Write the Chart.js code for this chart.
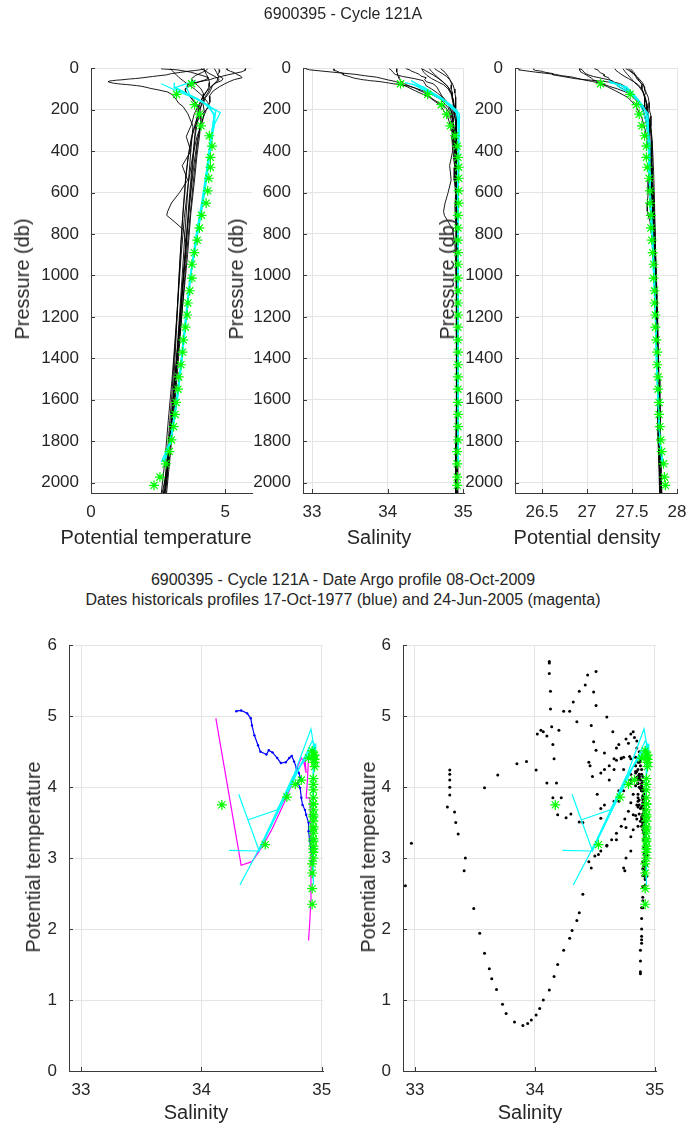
<!DOCTYPE html>
<html>
<head>
<meta charset="utf-8">
<script src="https://cdn.jsdelivr.net/npm/chart.js@4.4.0/dist/chart.umd.min.js"></script>
<style>
  body { margin: 0; width: 686px; height: 1128px; background: #fff; position: relative; overflow: hidden;
         font-family: "Liberation Sans", Arial, sans-serif; color: #262626; }
  canvas { position: absolute; }
  .lbl { position: absolute; white-space: nowrap; transform: translate(-50%, -50%); line-height: 1; }
  .rot { transform: translate(-50%, -50%) rotate(-90deg); }
</style>
</head>
<body>
<script>
// ---- Argo profile (green stars) ----
const argoPres = [75, 126, 176, 222, 278, 326, 376, 430, 478, 531, 592, 651, 710, 771, 830, 890, 946, 1013, 1074, 1133, 1191, 1250, 1311, 1370, 1431, 1490, 1549, 1613, 1671, 1730, 1794, 1850, 1909, 1973, 2013];
const argoTemp = [3.75, 3.19, 3.86, 4.04, 4.10, 4.41, 4.51, 4.45, 4.45, 4.39, 4.35, 4.29, 4.12, 4.04, 3.96, 3.85, 3.76, 3.76, 3.68, 3.61, 3.58, 3.52, 3.44, 3.41, 3.35, 3.27, 3.24, 3.17, 3.13, 3.08, 3.00, 2.92, 2.79, 2.57, 2.35];
const argoSal  = [34.17, 34.53, 34.71, 34.78, 34.83, 34.89, 34.92, 34.93, 34.94, 34.94, 34.94, 34.94, 34.93, 34.93, 34.93, 34.93, 34.93, 34.93, 34.93, 34.93, 34.93, 34.93, 34.93, 34.93, 34.93, 34.93, 34.93, 34.93, 34.93, 34.93, 34.93, 34.92, 34.92, 34.92, 34.92];
const argoDens = [27.15, 27.48, 27.55, 27.58, 27.61, 27.64, 27.66, 27.66, 27.67, 27.69, 27.70, 27.70, 27.71, 27.71, 27.72, 27.73, 27.74, 27.74, 27.75, 27.75, 27.76, 27.76, 27.77, 27.78, 27.78, 27.79, 27.79, 27.80, 27.80, 27.81, 27.82, 27.83, 27.85, 27.86, 27.87];

// ---- historical profiles (black) ----
const hist1Pres = [3, 5, 7, 9, 11, 14, 17, 20, 26, 32, 40, 46, 50, 52, 54, 56, 58, 60, 62, 65, 67, 69, 71, 73, 75, 77, 79, 81, 84, 87, 90, 94, 98, 104, 115, 130, 150, 168, 185, 220, 280, 400, 600, 800, 1000, 1300, 1600, 1900, 2200, 2600, 3000];
const hist1Temp = [4.24, 4.18, 4.10, 4.00, 3.89, 3.65, 3.50, 3.34, 3.00, 2.82, 2.29, 1.94, 1.66, 1.44, 1.30, 1.15, 0.94, 0.81, 0.69, 0.64, 0.67, 0.72, 0.79, 0.88, 1.00, 1.14, 1.33, 1.50, 1.70, 1.87, 1.98, 2.12, 2.23, 2.49, 2.86, 3.05, 3.17, 3.26, 3.43, 3.61, 3.80, 3.72, 3.60, 3.50, 3.40, 3.24, 3.08, 2.90, 2.40, 1.90, 1.37];
const hist1Sal  = [33.29, 33.29, 33.29, 33.29, 33.29, 33.33, 33.34, 33.36, 33.42, 33.41, 33.49, 33.54, 33.58, 33.62, 33.64, 33.68, 33.73, 33.76, 33.83, 33.90, 33.94, 33.97, 34.01, 34.04, 34.07, 34.12, 34.16, 34.19, 34.24, 34.29, 34.31, 34.35, 34.37, 34.40, 34.47, 34.53, 34.60, 34.68, 34.76, 34.82, 34.86, 34.89, 34.90, 34.91, 34.91, 34.92, 34.92, 34.91, 34.90, 34.89, 34.88];
const hist1Dens = [26.40, 26.41, 26.41, 26.42, 26.43, 26.49, 26.51, 26.54, 26.62, 26.62, 26.73, 26.81, 26.86, 26.91, 26.94, 26.99, 27.05, 27.08, 27.15, 27.21, 27.24, 27.26, 27.28, 27.30, 27.31, 27.34, 27.35, 27.36, 27.38, 27.40, 27.41, 27.43, 27.44, 27.44, 27.46, 27.49, 27.53, 27.59, 27.64, 27.67, 27.68, 27.71, 27.73, 27.75, 27.76, 27.78, 27.79, 27.80, 27.84, 27.88, 27.92];

const hist2Pres = [3, 8, 19, 30, 36, 43, 50, 57, 64, 70, 78, 90, 110, 140, 180, 240, 320, 420, 550, 700, 900, 1100, 1300, 1500, 1750, 2000];
const hist2Temp = [2.61, 3.21, 3.72, 3.99, 4.17, 4.33, 4.36, 4.24, 4.06, 3.85, 3.61, 3.57, 3.51, 3.70, 3.95, 4.10, 4.05, 3.95, 3.85, 3.72, 3.60, 3.45, 3.30, 3.14, 2.98, 2.82];
const hist2Sal  = [32.92, 32.97, 33.27, 33.58, 33.69, 33.85, 33.93, 34.01, 34.10, 34.15, 34.19, 34.26, 34.37, 34.55, 34.70, 34.80, 34.86, 34.89, 34.90, 34.91, 34.91, 34.92, 34.92, 34.92, 34.92, 34.92];
const hist2Dens = [26.26, 26.24, 26.43, 26.65, 26.72, 26.84, 26.90, 26.97, 27.06, 27.12, 27.17, 27.23, 27.32, 27.45, 27.54, 27.61, 27.66, 27.69, 27.71, 27.73, 27.74, 27.76, 27.77, 27.79, 27.80, 27.82];

const hist3Pres = [2, 10, 18, 25, 32, 40, 48, 56, 65, 75, 88, 100, 120, 150, 190, 250, 350, 500, 700, 900, 1100, 1300, 1500, 1700, 1900, 2100];
const hist3Temp = [5.77, 5.75, 5.60, 5.35, 5.10, 4.85, 4.60, 4.40, 4.06, 3.85, 3.62, 3.50, 3.56, 3.80, 4.05, 4.10, 3.98, 3.85, 3.70, 3.56, 3.44, 3.32, 3.20, 3.07, 2.93, 2.78];
const hist3Sal  = [34.12, 34.12, 34.12, 34.13, 34.13, 34.14, 34.15, 34.16, 34.18, 34.22, 34.30, 34.40, 34.55, 34.70, 34.80, 34.86, 34.89, 34.90, 34.91, 34.92, 34.92, 34.92, 34.92, 34.92, 34.92, 34.92];
const hist3Dens = [26.92, 26.92, 26.93, 26.96, 26.99, 27.02, 27.05, 27.07, 27.12, 27.17, 27.25, 27.34, 27.46, 27.55, 27.61, 27.65, 27.69, 27.71, 27.73, 27.75, 27.76, 27.77, 27.78, 27.79, 27.81, 27.82];

const hist4Pres = [2, 8, 15, 22, 30, 38, 46, 55, 65, 75, 90, 110, 135, 165, 200, 260, 350, 480, 650, 850, 1050, 1250, 1450, 1650, 1850, 2050];
const hist4Temp = [5.07, 5.07, 5.20, 5.35, 5.44, 5.58, 5.63, 5.34, 5.15, 4.99, 4.78, 4.55, 4.41, 4.43, 4.30, 4.12, 3.96, 3.82, 3.68, 3.54, 3.42, 3.30, 3.18, 3.04, 2.90, 2.74];
const hist4Sal  = [34.24, 34.29, 34.32, 34.37, 34.42, 34.44, 34.51, 34.49, 34.51, 34.60, 34.65, 34.68, 34.72, 34.79, 34.84, 34.87, 34.89, 34.90, 34.91, 34.92, 34.92, 34.92, 34.93, 34.93, 34.93, 34.93];
const hist4Dens = [27.08, 27.12, 27.13, 27.15, 27.19, 27.19, 27.24, 27.25, 27.28, 27.37, 27.43, 27.47, 27.52, 27.57, 27.62, 27.66, 27.69, 27.71, 27.73, 27.75, 27.76, 27.77, 27.79, 27.80, 27.82, 27.83];

const hist5Pres = [2, 10, 20, 30, 40, 50, 60, 72, 85, 100, 120, 145, 175, 210, 260, 330, 430, 560, 720, 900, 1100, 1300, 1500, 1700, 1900, 2050];
const hist5Temp = [4.75, 4.80, 4.78, 4.72, 4.80, 4.92, 4.87, 4.64, 4.52, 4.48, 4.40, 4.25, 4.18, 4.22, 4.15, 3.95, 3.78, 3.62, 3.48, 3.36, 3.25, 3.14, 3.02, 2.88, 2.75, 2.62];
const hist5Sal  = [34.02, 34.05, 34.07, 34.10, 34.20, 34.35, 34.47, 34.49, 34.51, 34.58, 34.66, 34.74, 34.80, 34.84, 34.87, 34.89, 34.90, 34.90, 34.91, 34.91, 34.92, 34.92, 34.92, 34.92, 34.92, 34.92];
const hist5Dens = [26.93, 26.95, 26.97, 27.00, 27.07, 27.18, 27.28, 27.31, 27.34, 27.40, 27.47, 27.55, 27.60, 27.63, 27.66, 27.69, 27.71, 27.73, 27.75, 27.76, 27.78, 27.79, 27.80, 27.81, 27.82, 27.83];

const hist6Pres = [2, 15, 30, 50, 70, 90, 115, 145, 180, 220, 270, 330, 400, 470, 540, 600, 650, 690, 710, 740, 780, 850, 950, 1100, 1300, 1500, 1700, 1900, 2050];
const hist6Temp = [4.20, 4.25, 4.30, 4.38, 4.42, 4.40, 4.30, 4.15, 4.00, 3.85, 3.75, 3.55, 3.72, 3.40, 3.60, 3.30, 3.00, 2.86, 2.82, 3.10, 3.45, 3.55, 3.48, 3.38, 3.26, 3.12, 2.98, 2.84, 2.70];
const hist6Sal  = [34.55, 34.58, 34.62, 34.68, 34.74, 34.80, 34.84, 34.86, 34.87, 34.86, 34.87, 34.85, 34.86, 34.82, 34.84, 34.80, 34.76, 34.74, 34.75, 34.80, 34.86, 34.89, 34.90, 34.91, 34.91, 34.92, 34.92, 34.92, 34.92];
const hist6Dens = [27.40, 27.42, 27.45, 27.49, 27.53, 27.58, 27.62, 27.65, 27.67, 27.68, 27.69, 27.70, 27.69, 27.69, 27.68, 27.68, 27.67, 27.67, 27.68, 27.70, 27.71, 27.73, 27.74, 27.76, 27.77, 27.79, 27.80, 27.81, 27.83];

const hist7Pres = [2, 12, 25, 40, 55, 70, 85, 100, 120, 140, 165, 195, 230, 280, 350, 450, 600, 800, 1000, 1200, 1400, 1600, 1800, 2000, 2300, 2700];
const hist7Temp = [4.10, 4.25, 4.40, 4.62, 4.78, 4.65, 4.50, 4.38, 4.25, 4.15, 4.08, 4.00, 3.96, 3.90, 3.85, 3.78, 3.68, 3.56, 3.44, 3.32, 3.20, 3.08, 2.95, 2.80, 2.30, 1.80];
const hist7Sal  = [34.62, 34.66, 34.72, 34.78, 34.82, 34.85, 34.87, 34.88, 34.89, 34.90, 34.90, 34.90, 34.91, 34.91, 34.91, 34.91, 34.91, 34.92, 34.92, 34.92, 34.92, 34.92, 34.92, 34.91, 34.90, 34.89];
const hist7Dens = [27.46, 27.48, 27.52, 27.54, 27.56, 27.60, 27.63, 27.64, 27.66, 27.68, 27.69, 27.69, 27.71, 27.71, 27.72, 27.72, 27.73, 27.75, 27.76, 27.77, 27.78, 27.79, 27.80, 27.81, 27.85, 27.88];

const hist8Pres = [2, 10, 20, 35, 50, 65, 80, 100, 125, 150, 180, 220, 270, 330, 420, 550, 700, 900, 1100, 1300, 1500, 1700, 1900, 2100];
const hist8Temp = [4.35, 4.30, 4.15, 3.90, 3.75, 3.80, 3.95, 4.10, 4.20, 4.18, 4.10, 4.02, 3.95, 3.88, 3.82, 3.74, 3.64, 3.52, 3.40, 3.28, 3.16, 3.02, 2.88, 2.72];
const hist8Sal  = [34.45, 34.46, 34.48, 34.52, 34.58, 34.66, 34.74, 34.80, 34.84, 34.87, 34.88, 34.89, 34.90, 34.90, 34.91, 34.91, 34.92, 34.92, 34.92, 34.92, 34.92, 34.92, 34.92, 34.92];
const hist8Dens = [27.31, 27.32, 27.35, 27.40, 27.46, 27.52, 27.57, 27.61, 27.63, 27.65, 27.67, 27.68, 27.70, 27.71, 27.72, 27.73, 27.74, 27.75, 27.76, 27.78, 27.79, 27.80, 27.81, 27.83];

const hist9Pres = [2, 12, 22, 32, 42, 52, 62, 72, 82, 92, 105, 118, 132, 148, 165, 185, 200, 215, 235, 260, 290, 330, 400, 500, 650, 850, 1100, 1350, 1600, 1800, 1950, 2100, 2300, 2500, 2700, 2900, 3100, 3300, 3500, 3700, 3900];
const hist9Temp = [2.95, 3.03, 3.10, 3.18, 3.26, 3.35, 3.45, 3.55, 3.66, 3.78, 3.90, 4.02, 4.14, 4.25, 4.35, 4.42, 4.30, 4.18, 4.05, 3.95, 3.85, 3.75, 3.65, 3.55, 3.45, 3.35, 3.25, 3.15, 3.05, 2.95, 2.85, 2.75, 2.60, 2.45, 2.30, 2.15, 2.00, 1.85, 1.70, 1.55, 1.40];
const hist9Sal  = [34.45, 34.50, 34.55, 34.60, 34.64, 34.68, 34.72, 34.75, 34.78, 34.80, 34.82, 34.84, 34.85, 34.86, 34.87, 34.88, 34.88, 34.89, 34.89, 34.90, 34.90, 34.90, 34.91, 34.91, 34.91, 34.91, 34.91, 34.91, 34.91, 34.90, 34.90, 34.90, 34.90, 34.90, 34.89, 34.89, 34.89, 34.89, 34.88, 34.88, 34.88];
const hist9Dens = [27.43, 27.47, 27.50, 27.53, 27.56, 27.58, 27.60, 27.62, 27.63, 27.64, 27.64, 27.65, 27.64, 27.64, 27.64, 27.64, 27.65, 27.67, 27.68, 27.70, 27.71, 27.72, 27.73, 27.74, 27.75, 27.76, 27.77, 27.78, 27.79, 27.79, 27.80, 27.81, 27.82, 27.83, 27.84, 27.85, 27.87, 27.88, 27.89, 27.90, 27.91];

const hist10Pres = [2, 20, 40, 60, 80, 100, 120, 145, 170, 200, 230, 260, 300, 340, 380, 430, 480, 540, 600, 670, 750, 850, 1000, 1200, 1400, 1600, 1800, 2000];
const hist10Temp = [4.60, 4.68, 4.75, 4.70, 4.55, 4.42, 4.35, 4.22, 4.15, 4.05, 3.98, 3.90, 3.82, 3.75, 3.70, 3.62, 3.58, 3.52, 3.50, 3.45, 3.40, 3.35, 3.28, 3.20, 3.10, 3.00, 2.88, 2.76];
const hist10Sal  = [34.70, 34.76, 34.80, 34.83, 34.85, 34.84, 34.86, 34.85, 34.87, 34.86, 34.88, 34.86, 34.87, 34.85, 34.88, 34.87, 34.89, 34.88, 34.90, 34.89, 34.90, 34.91, 34.91, 34.92, 34.92, 34.92, 34.92, 34.92];
const hist10Dens = [27.48, 27.52, 27.55, 27.58, 27.61, 27.61, 27.63, 27.64, 27.66, 27.66, 27.68, 27.67, 27.69, 27.68, 27.71, 27.71, 27.72, 27.72, 27.74, 27.74, 27.75, 27.76, 27.77, 27.78, 27.79, 27.80, 27.81, 27.82];

// ---- nearby profiles (cyan) ----
const cyan1Pres = [60, 95, 150, 215, 265, 350, 500, 650, 800, 1000, 1200, 1400, 1600, 1800, 1900];
const cyan1Temp = [3.90, 3.10, 3.95, 4.82, 4.62, 4.45, 4.30, 4.15, 3.95, 3.70, 3.55, 3.38, 3.20, 2.95, 2.62];
const cyan1Sal  = [34.31, 34.48, 34.72, 34.91, 34.93, 34.93, 34.93, 34.93, 34.93, 34.93, 34.93, 34.93, 34.93, 34.93, 34.93];
const cyan1Dens = [27.24, 27.44, 27.56, 27.63, 27.66, 27.68, 27.69, 27.70, 27.72, 27.75, 27.76, 27.77, 27.79, 27.81, 27.84];

const cyan2Pres = [70, 90, 150, 205, 260, 350, 500, 650, 800, 1000, 1200, 1400, 1600, 1800, 1900];
const cyan2Temp = [3.11, 3.10, 4.00, 4.65, 4.60, 4.50, 4.35, 4.18, 3.98, 3.72, 3.55, 3.40, 3.22, 2.98, 2.70];
const cyan2Sal  = [34.23, 34.47, 34.74, 34.92, 34.94, 34.94, 34.94, 34.93, 34.93, 34.93, 34.93, 34.93, 34.93, 34.93, 34.93];
const cyan2Dens = [27.25, 27.44, 27.57, 27.65, 27.67, 27.68, 27.69, 27.70, 27.72, 27.74, 27.76, 27.77, 27.79, 27.81, 27.84];

const cyan3Pres = [75, 110, 160, 220, 270, 350, 500, 650, 800, 1000, 1200, 1400, 1600, 1800, 1900];
const cyan3Temp = [2.62, 3.20, 4.15, 4.60, 4.55, 4.45, 4.32, 4.15, 3.95, 3.72, 3.56, 3.40, 3.22, 2.98, 2.75];
const cyan3Sal  = [34.32, 34.50, 34.76, 34.95, 34.95, 34.94, 34.94, 34.93, 34.93, 34.93, 34.93, 34.93, 34.93, 34.93, 34.93];
const cyan3Dens = [27.36, 27.45, 27.57, 27.68, 27.68, 27.69, 27.70, 27.70, 27.72, 27.74, 27.76, 27.77, 27.79, 27.81, 27.83];

const cyan4Pres = [85, 130, 180, 230, 290, 350, 500, 650, 800, 1000, 1200, 1400, 1600, 1800, 1900];
const cyan4Temp = [3.54, 3.68, 4.40, 4.58, 4.52, 4.45, 4.30, 4.12, 3.92, 3.70, 3.52, 3.36, 3.18, 2.96, 2.68];
const cyan4Sal  = [34.39, 34.63, 34.85, 34.93, 34.94, 34.94, 34.93, 34.93, 34.93, 34.93, 34.93, 34.93, 34.93, 34.93, 34.93];
const cyan4Dens = [27.33, 27.51, 27.62, 27.67, 27.68, 27.69, 27.69, 27.71, 27.73, 27.75, 27.76, 27.78, 27.79, 27.81, 27.84];

// ---- dated historical profiles in theta-S ----
const blueSal  = [34.29, 34.33, 34.38, 34.41, 34.42, 34.44, 34.47, 34.49, 34.54, 34.56, 34.59, 34.63, 34.66, 34.70, 34.73, 34.75, 34.77, 34.79, 34.81, 34.82, 34.80, 34.82, 34.83, 34.84, 34.86, 34.87, 34.89, 34.89, 34.90, 34.91, 34.93, 34.92];
const blueTemp = [5.07, 5.08, 5.04, 4.97, 4.87, 4.73, 4.59, 4.50, 4.46, 4.52, 4.49, 4.41, 4.34, 4.35, 4.41, 4.44, 4.36, 4.27, 4.20, 4.13, 4.06, 3.99, 3.85, 3.75, 3.68, 3.61, 3.50, 3.38, 3.24, 3.12, 3.00, 2.96];
const magentaSal  = [34.12, 34.33, 34.42, 34.51, 34.59, 34.68, 34.75, 34.80, 34.83, 34.85, 34.87, 34.86, 34.89, 34.88, 34.87, 34.90, 34.91, 34.91, 34.91, 34.90, 34.89];
const magentaTemp = [4.97, 2.90, 2.95, 3.17, 3.42, 3.75, 4.03, 4.29, 4.41, 4.36, 4.20, 4.41, 4.43, 4.08, 3.85, 3.85, 3.42, 2.77, 2.42, 2.10, 1.84];

// ---- axis ticks ----
const presTicks = [0, 200, 400, 600, 800, 1000, 1200, 1400, 1600, 1800, 2000];
const tempTicks = [0, 5];
const salTicks = [33, 34, 35];
const densTicks = [26.5, 27, 27.5, 28];
const thetaTicks = [0, 1, 2, 3, 4, 5, 6];

const historical = [
  { pres: hist1Pres, temp: hist1Temp, sal: hist1Sal, dens: hist1Dens },
  { pres: hist2Pres, temp: hist2Temp, sal: hist2Sal, dens: hist2Dens },
  { pres: hist3Pres, temp: hist3Temp, sal: hist3Sal, dens: hist3Dens },
  { pres: hist4Pres, temp: hist4Temp, sal: hist4Sal, dens: hist4Dens },
  { pres: hist5Pres, temp: hist5Temp, sal: hist5Sal, dens: hist5Dens },
  { pres: hist6Pres, temp: hist6Temp, sal: hist6Sal, dens: hist6Dens },
  { pres: hist7Pres, temp: hist7Temp, sal: hist7Sal, dens: hist7Dens },
  { pres: hist8Pres, temp: hist8Temp, sal: hist8Sal, dens: hist8Dens },
  { pres: hist9Pres, temp: hist9Temp, sal: hist9Sal, dens: hist9Dens },
  { pres: hist10Pres, temp: hist10Temp, sal: hist10Sal, dens: hist10Dens }
];
const nearby = [
  { pres: cyan1Pres, temp: cyan1Temp, sal: cyan1Sal, dens: cyan1Dens },
  { pres: cyan2Pres, temp: cyan2Temp, sal: cyan2Sal, dens: cyan2Dens },
  { pres: cyan3Pres, temp: cyan3Temp, sal: cyan3Sal, dens: cyan3Dens },
  { pres: cyan4Pres, temp: cyan4Temp, sal: cyan4Sal, dens: cyan4Dens }
];
const argo = { pres: argoPres, temp: argoTemp, sal: argoSal, dens: argoDens };

const FONT = '"Liberation Sans", Arial, Helvetica, sans-serif';
Chart.defaults.font.family = FONT;

// marges autour de la zone de tracé
const YW = 70, PT = 20, PR = 25, XH = 45;

// petits traits de graduation vers l'intérieur (style Matlab)
const inwardTicks = {
  id: 'inwardTicks',
  afterDraw(chart) {
    const { ctx, chartArea: a, scales } = chart;
    ctx.save();
    ctx.strokeStyle = '#3a3a3a';
    ctx.lineWidth = 1;
    ctx.beginPath();
    scales.x.ticks.forEach(t => {
      const px = Math.round(scales.x.getPixelForValue(t.value)) + 0.5;
      ctx.moveTo(px, a.bottom); ctx.lineTo(px, a.bottom - 4);
    });
    scales.y.ticks.forEach(t => {
      const py = Math.round(scales.y.getPixelForValue(t.value)) + 0.5;
      ctx.moveTo(a.left, py); ctx.lineTo(a.left + 4, py);
    });
    ctx.stroke();
    ctx.restore();
  }
};

function axis(cfg, dir) {
  return {
    type: 'linear',
    min: cfg.min, max: cfg.max, reverse: !!cfg.reverse,
    afterBuildTicks: s => { s.ticks = cfg.ticks.map(v => ({ value: v })); },
    afterFit: s => { if (dir === 'x') s.height = XH; else s.width = YW; },
    grid: { color: '#e4e4e4', drawTicks: false },
    border: { color: '#3a3a3a', width: 1 },
    ticks: {
      font: { size: 17 }, color: '#262626',
      padding: dir === 'x' ? 9 : 12,
      autoSkip: false, maxRotation: 0,
      callback: v => String(v)
    }
  };
}

function panel(area, xCfg, yCfg, datasets) {
  const c = document.createElement('canvas');
  c.width = area.r - area.l + YW + PR;
  c.height = area.b - area.t + PT + XH;
  c.style.left = (area.l - YW) + 'px';
  c.style.top = (area.t - PT) + 'px';
  document.body.appendChild(c);
  return new Chart(c, {
    type: 'scatter',
    data: { datasets },
    options: {
      responsive: false, animation: false, events: [],
      layout: { padding: { top: PT, right: PR, left: 0, bottom: 0 } },
      plugins: { legend: { display: false }, tooltip: { enabled: false } },
      scales: { x: axis(xCfg, 'x'), y: axis(yCfg, 'y') }
    },
    plugins: [inwardTicks]
  });
}

function text(str, x, y, size, rotate) {
  const d = document.createElement('div');
  d.className = 'lbl' + (rotate ? ' rot' : '');
  d.style.left = x + 'px';
  d.style.top = y + 'px';
  d.style.fontSize = size + 'px';
  d.textContent = str;
  document.body.appendChild(d);
}

const lineDs = (xs, ys, color, w) => ({
  data: xs.map((x, i) => ({ x, y: ys[i] })),
  showLine: true, borderColor: color, borderWidth: w, pointRadius: 0, tension: 0
});
const starDs = (xs, ys) => ({
  data: xs.map((x, i) => ({ x, y: ys[i] })),
  showLine: false, pointStyle: 'star', pointRadius: 5,
  pointBorderColor: '#00ff00', pointBackgroundColor: '#00ff00', pointBorderWidth: 1.2
});
const dotDs = (xs, ys, color) => ({
  data: xs.map((x, i) => ({ x, y: ys[i] })),
  showLine: false, pointRadius: 1.5, pointBorderWidth: 0,
  pointBackgroundColor: color, pointBorderColor: color
});

// profils verticaux : premier jeu dessiné au-dessus
function profileSets(key) {
  return [
    starDs(argo[key], argo.pres),
    ...nearby.map(p => lineDs(p[key], p.pres, '#00ffff', 1.2)),
    ...historical.map(p => lineDs(p[key], p.pres, '#000000', 0.9))
  ];
}

const presAxis = { min: 0, max: 2050, reverse: true, ticks: presTicks };
panel({ l: 91, t: 66, r: 252, b: 493 }, { min: 0, max: 6, ticks: tempTicks }, presAxis, profileSets('temp'));
panel({ l: 303, t: 66, r: 464, b: 493 }, { min: 32.88, max: 35.01, ticks: salTicks }, presAxis, profileSets('sal'));
panel({ l: 515, t: 66, r: 677, b: 493 }, { min: 26.2, max: 28, ticks: densTicks }, presAxis, profileSets('dens'));

const tsX = { min: 32.9, max: 35.01, ticks: salTicks };
const tsY = { min: 0, max: 6, ticks: thetaTicks };
const cyanTS = nearby.map(p => lineDs(p.sal, p.temp, '#00ffff', 1.2));

panel({ l: 69, t: 643, r: 323, b: 1071 }, tsX, tsY, [
  starDs(argo.sal, argo.temp),
  ...cyanTS,
  Object.assign(lineDs(blueSal, blueTemp, '#0000ff', 1.2), { pointRadius: 1.2, pointBackgroundColor: '#0000ff', pointBorderWidth: 0 }),
  lineDs(magentaSal, magentaTemp, '#ff00ff', 1.2)
]);

panel({ l: 403, t: 643, r: 656, b: 1071 }, tsX, tsY, [
  starDs(argo.sal, argo.temp),
  ...cyanTS,
  ...historical.map(p => dotDs(p.sal, p.temp, '#000000'))
]);

// ---- textes ----
text('6900395 - Cycle 121A', 343, 14, 16);
text('Pressure (db)', 22, 279, 20, true);
text('Pressure (db)', 236, 279, 20, true);
text('Pressure (db)', 447, 279, 20, true);
text('Potential temperature', 156, 537, 20);
text('Salinity', 379, 537, 20);
text('Potential density', 587, 537, 20);
text('6900395 - Cycle 121A - Date Argo profile 08-Oct-2009', 343, 580, 16);
text('Dates historicals profiles 17-Oct-1977 (blue) and 24-Jun-2005 (magenta)', 343, 600, 16);
text('Potential temperature', 33, 857, 20, true);
text('Potential temperature', 368, 857, 20, true);
text('Salinity', 196, 1112, 20);
text('Salinity', 530, 1112, 20);
</script>
</body>
</html>
